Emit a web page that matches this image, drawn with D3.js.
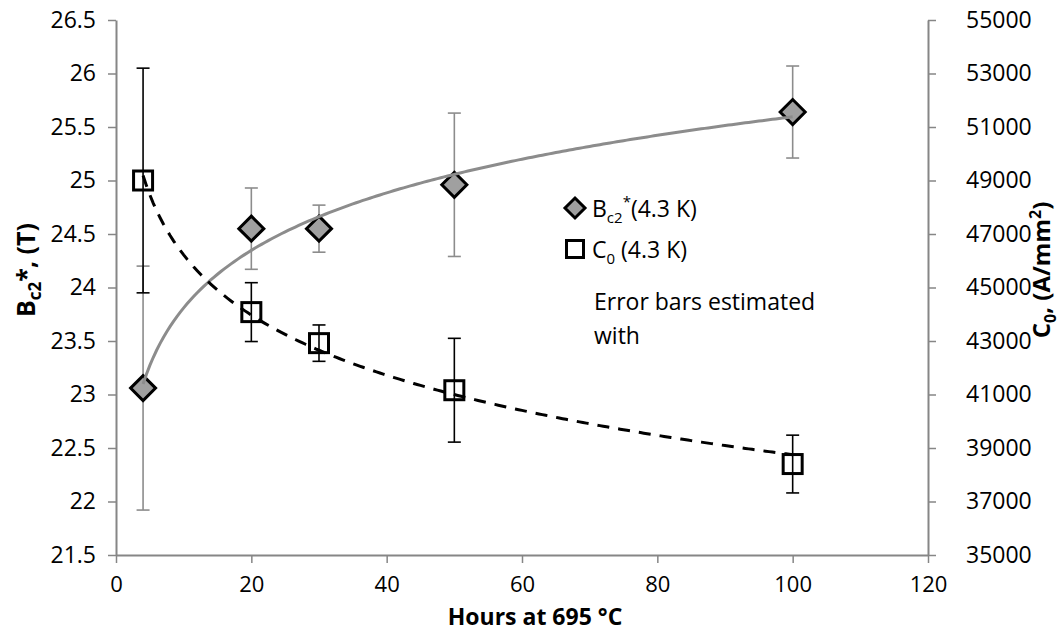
<!DOCTYPE html>
<html>
<head>
  <meta charset="utf-8">
  <script src="https://d3js.org/d3.v7.min.js"></script>
  <style>
    body { margin: 0; background: #fff; }
    text { font-family: "Open Sans", "Noto Sans", sans-serif; fill: #000; }
  </style>
</head>
<body>
<div id="chart"></div>
<script>
  // hours of heat treatment
  var hours = [4, 20, 30, 50, 100];
  // Bc2* (T) at 4.3 K and its error
  var bc2 = [23.06, 24.55, 24.55, 24.96, 25.64];
  var bc2Err = [1.14, 0.38, 0.22, 0.67, 0.43];
  // C0 (A/mm2) at 4.3 K and its error
  var c0 = [49000, 44080, 42920, 41160, 38400];
  var c0Err = [4200, 1100, 680, 1940, 1080];

  var xTicks = [0, 20, 40, 60, 80, 100, 120];
  var leftTicks = [21.5, 22, 22.5, 23, 23.5, 24, 24.5, 25, 25.5, 26, 26.5];
  var rightTicks = [35000, 37000, 39000, 41000, 43000, 45000, 47000, 49000, 51000, 53000, 55000];

  var W = 1064, H = 633;
  var m = {left: 116, right: 136, top: 20, bottom: 78};

  var svg = d3.select('#chart').append('svg')
    .attr('width', W).attr('height', H);

  var x = d3.scaleLinear().domain([0, 120]).range([m.left, W - m.right]);
  var yL = d3.scaleLinear().domain([21.5, 26.5]).range([H - m.bottom, m.top]);
  var yR = d3.scaleLinear().domain([35000, 55000]).range([H - m.bottom, m.top]);

  var axisColor = '#868686';

  function styleAxis(g) {
    g.select('.domain').attr('stroke', axisColor).attr('stroke-width', 2);
    g.selectAll('.tick line').attr('stroke', axisColor).attr('stroke-width', 1.5);
    g.selectAll('.tick text').style('font-size', '23px').attr('fill', '#000');
  }

  svg.append('g')
    .attr('transform', 'translate(0,' + (H - m.bottom) + ')')
    .call(d3.axisBottom(x).tickValues(xTicks).tickSize(8).tickPadding(13).tickSizeOuter(0))
    .call(styleAxis)
    .selectAll('.tick text').style('font-size', '22px');

  svg.append('g')
    .attr('transform', 'translate(' + m.left + ',0)')
    .call(d3.axisLeft(yL).tickValues(leftTicks).tickFormat(d3.format('')).tickSize(8).tickPadding(12).tickSizeOuter(0))
    .call(styleAxis);

  svg.append('g')
    .attr('transform', 'translate(' + (W - m.right) + ',0)')
    .call(d3.axisRight(yR).tickValues(rightTicks).tickFormat(d3.format('d')).tickSize(8).tickPadding(30).tickSizeOuter(0))
    .call(styleAxis);

  // log trendline from least squares fit of y on ln(x)
  function logFit(xs, ys) {
    var lx = xs.map(Math.log);
    var mx = d3.mean(lx), my = d3.mean(ys);
    var sxy = d3.sum(lx, function(v, i) { return (v - mx) * (ys[i] - my); });
    var sxx = d3.sum(lx, function(v) { return (v - mx) * (v - mx); });
    var b = sxy / sxx;
    var a = my - b * mx;
    return function(t) { return a + b * Math.log(t); };
  }

  var fitB = logFit(hours, bc2);
  var fitC = logFit(hours, c0);
  var xs = d3.range(hours[0], hours[hours.length - 1] + 0.01, 0.5);

  var plot = svg.append('g');

  // Bc2 error bars (grey)
  var capW = 6.5;
  hours.forEach(function(h, i) {
    var g = plot.append('g').attr('stroke', '#8c8c8c').attr('stroke-width', 1.6);
    var lo = yL(bc2[i] - bc2Err[i]), hi = yL(bc2[i] + bc2Err[i]);
    g.append('line').attr('x1', x(h)).attr('x2', x(h)).attr('y1', lo).attr('y2', hi);
    g.append('line').attr('x1', x(h) - capW).attr('x2', x(h) + capW).attr('y1', lo).attr('y2', lo);
    g.append('line').attr('x1', x(h) - capW).attr('x2', x(h) + capW).attr('y1', hi).attr('y2', hi);
  });

  // C0 error bars (black)
  hours.forEach(function(h, i) {
    var g = plot.append('g').attr('stroke', '#000').attr('stroke-width', 1.6);
    var lo = yR(c0[i] - c0Err[i]), hi = yR(c0[i] + c0Err[i]);
    g.append('line').attr('x1', x(h)).attr('x2', x(h)).attr('y1', lo).attr('y2', hi);
    g.append('line').attr('x1', x(h) - capW).attr('x2', x(h) + capW).attr('y1', lo).attr('y2', lo);
    g.append('line').attr('x1', x(h) - capW).attr('x2', x(h) + capW).attr('y1', hi).attr('y2', hi);
  });

  // markers
  var dia = 12.5, sq = 9.5;
  plot.selectAll('.dia').data(hours).enter().append('path')
    .attr('d', function(h, i) {
      var cx = x(h), cy = yL(bc2[i]);
      return 'M' + cx + ',' + (cy - dia) + 'L' + (cx + dia) + ',' + cy + 'L' + cx + ',' + (cy + dia) + 'L' + (cx - dia) + ',' + cy + 'Z';
    })
    .attr('fill', '#a0a0a0').attr('stroke', '#000').attr('stroke-width', 3);

  plot.selectAll('.sq').data(hours).enter().append('rect')
    .attr('x', function(h) { return x(h) - sq; })
    .attr('y', function(h, i) { return yR(c0[i]) - sq; })
    .attr('width', sq * 2).attr('height', sq * 2)
    .attr('fill', 'none').attr('stroke', '#000').attr('stroke-width', 3);

  // trendlines
  plot.append('path')
    .attr('d', d3.line().x(function(t) { return x(t); }).y(function(t) { return yL(fitB(t)); })(xs))
    .attr('fill', 'none').attr('stroke', '#8c8c8c').attr('stroke-width', 3);

  plot.append('path')
    .attr('d', d3.line().x(function(t) { return x(t); }).y(function(t) { return yR(fitC(t)); })(xs))
    .attr('fill', 'none').attr('stroke', '#000').attr('stroke-width', 3)
    .attr('stroke-dasharray', '12,9');

  // legend
  var lg = svg.append('g');
  var lx = 575, ly1 = 208, ly2 = 249, ld = 10;
  lg.append('path')
    .attr('d', 'M' + lx + ',' + (ly1 - ld) + 'L' + (lx + ld) + ',' + ly1 + 'L' + lx + ',' + (ly1 + ld) + 'L' + (lx - ld) + ',' + ly1 + 'Z')
    .attr('fill', '#a0a0a0').attr('stroke', '#000').attr('stroke-width', 3);
  lg.append('rect').attr('x', lx - 8.5).attr('y', ly2 - 8.5).attr('width', 17).attr('height', 17)
    .attr('fill', '#fff').attr('stroke', '#000').attr('stroke-width', 3);

  var t1 = lg.append('text').attr('x', 592).attr('y', ly1 + 9).style('font-size', '23px');
  t1.append('tspan').text('B');
  t1.append('tspan').attr('dy', 6).style('font-size', '15px').text('c2');
  t1.append('tspan').attr('dy', -16).style('font-size', '15px').text('*');
  t1.append('tspan').attr('dy', 10).text('(4.3 K)');

  var t2 = lg.append('text').attr('x', 592).attr('y', ly2 + 9).style('font-size', '23px');
  t2.append('tspan').text('C');
  t2.append('tspan').attr('dy', 6).style('font-size', '15px').text('0');
  t2.append('tspan').attr('dy', -6).text(' (4.3 K)');

  lg.append('text').attr('x', 594).attr('y', 310).style('font-size', '23px').text('Error bars estimated');
  lg.append('text').attr('x', 594).attr('y', 344).style('font-size', '23px').text('with');

  // axis titles
  svg.append('text')
    .attr('x', 535).attr('y', 625).attr('text-anchor', 'middle')
    .style('font-size', '23px').style('font-weight', 'bold')
    .text('Hours at 695 \u00B0C');

  var ytl = svg.append('text')
    .attr('transform', 'translate(35,270) rotate(-90)')
    .attr('text-anchor', 'middle').style('font-size', '25px').style('font-weight', 'bold');
  ytl.append('tspan').text('B');
  ytl.append('tspan').attr('dy', 6).style('font-size', '17px').text('c2');
  ytl.append('tspan').attr('dy', -6).text('*, (T)');

  var ytr = svg.append('text')
    .attr('transform', 'translate(1050,270) rotate(-90)')
    .attr('text-anchor', 'middle').style('font-size', '24px').style('font-weight', 'bold');
  ytr.append('tspan').text('C');
  ytr.append('tspan').attr('dy', 6).style('font-size', '16px').text('0');
  ytr.append('tspan').attr('dy', -6).text(', (A/mm');
  ytr.append('tspan').attr('dy', -9).style('font-size', '16px').text('2');
  ytr.append('tspan').attr('dy', 9).text(')');
</script>
</body>
</html>
